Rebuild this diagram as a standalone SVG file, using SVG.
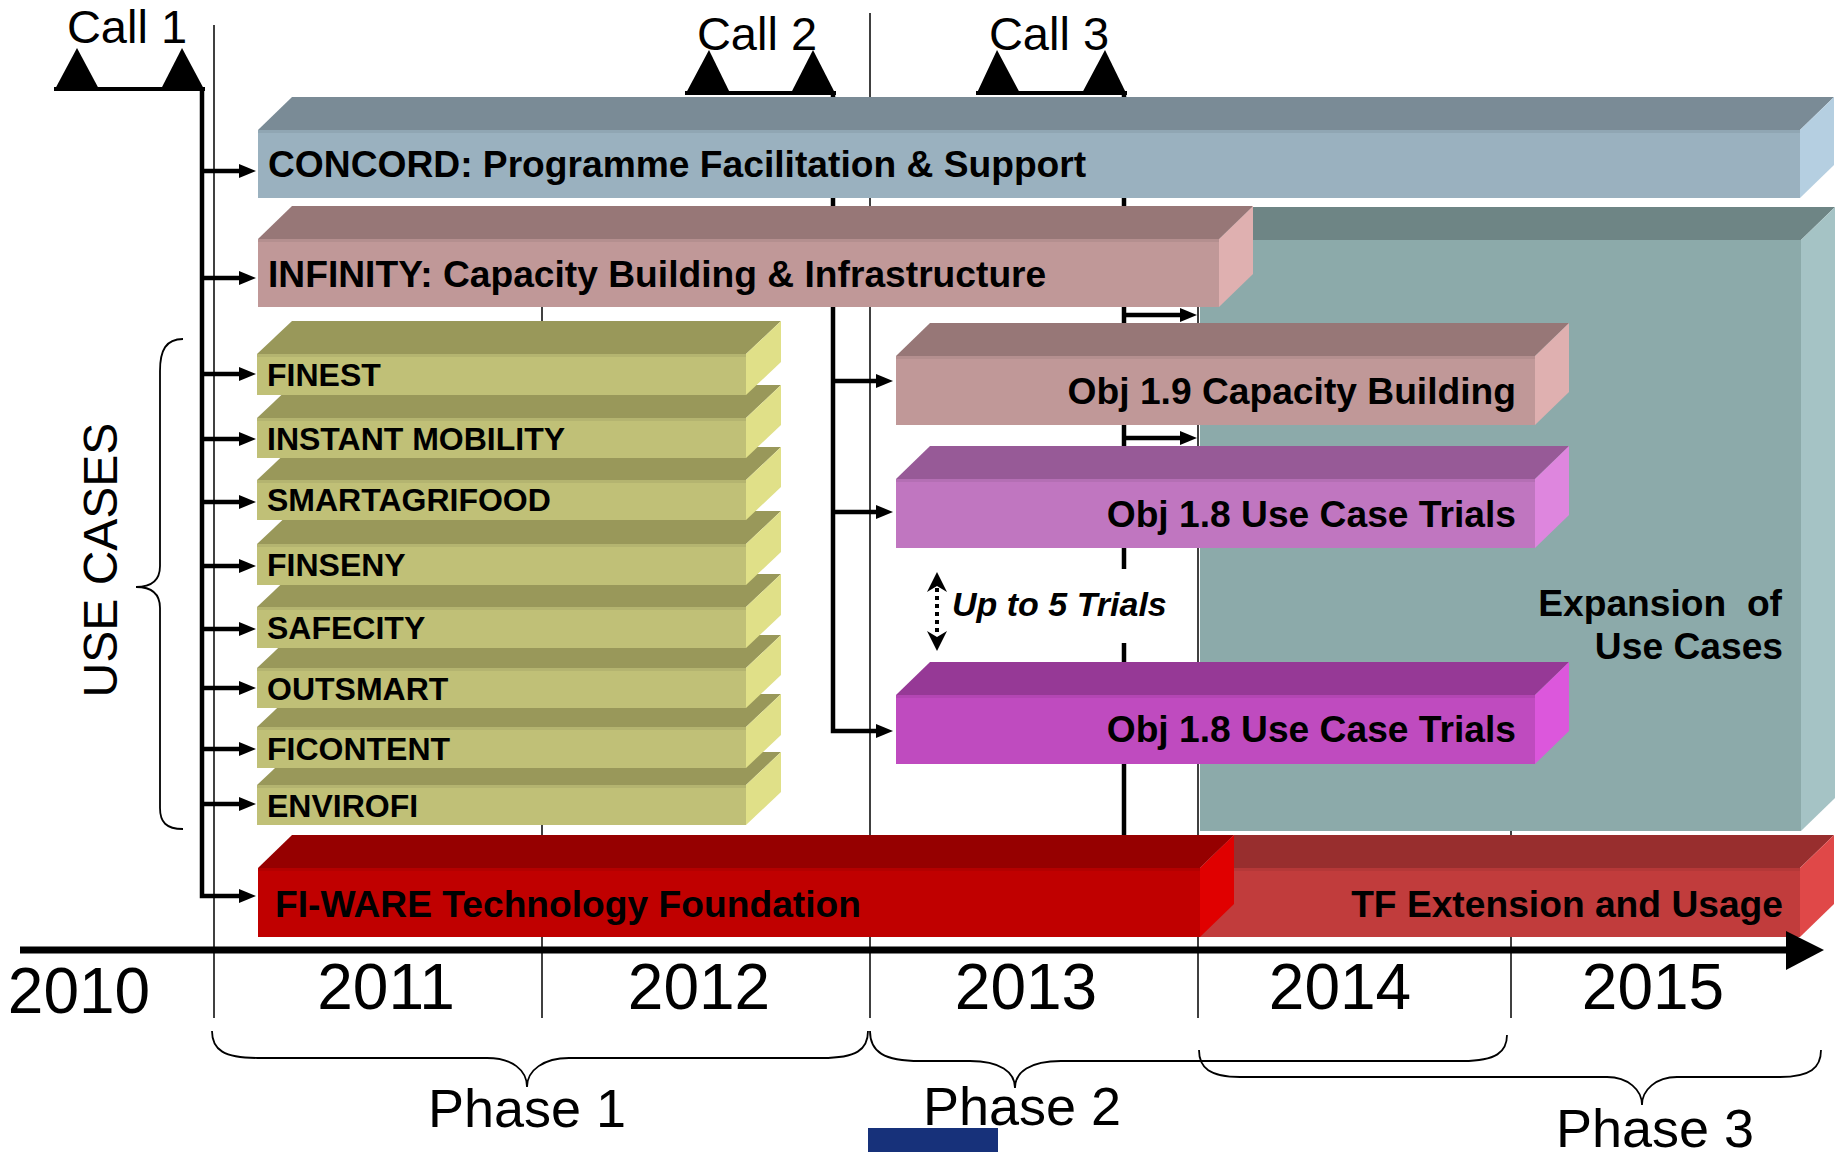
<svg xmlns="http://www.w3.org/2000/svg" width="1840" height="1152" viewBox="0 0 1840 1152">
<style>
text{font-family:"Liberation Sans",Arial,sans-serif;fill:#000}
.lbl{font-size:37.2px;font-weight:bold}
.uc{font-size:32px;font-weight:bold}
.yr{font-size:64px;text-anchor:middle}
.call{font-size:47px;text-anchor:middle}
.ph{font-size:54px;text-anchor:middle}
.yl{stroke:#000;stroke-width:1.5;fill:none}
.con{stroke:#000;stroke-width:4.5;fill:none}
.brace{stroke:#000;stroke-width:1.8;fill:none}
.band{fill:#000;fill-opacity:0.06}
.cf{fill:#9AB1BF}.ct{fill:#7A8B96}.cs{fill:#B5CFE1}
.if{fill:#C09898}.it{fill:#977777}.is{fill:#DFB0B0}
.ef{fill:#8CAAAA}.et{fill:#6E8585}.es{fill:#A5C3C5}
.uf{fill:#C0C077}.ut{fill:#99985A}.us{fill:#E0E088}
.af{fill:#C076C0}.at{fill:#975A97}.as{fill:#DE86DE}
.bf{fill:#BF4BBF}.bt{fill:#963996}.bs{fill:#DC57DC}
.ff{fill:#C00000}.ft{fill:#960000}.fs{fill:#E00000}
.tf{fill:#C13C3C}.tt{fill:#982E2E}.ts{fill:#E04848}
</style>
<defs>
<marker id="ah" markerUnits="userSpaceOnUse" viewBox="0 0 17 14" refX="7" refY="7" markerWidth="17" markerHeight="14" orient="auto">
<path d="M0,0 L17,7 L0,14 Z" fill="#000"/>
</marker>
</defs>

<g id="year-lines">
<line class="yl" x1="214" y1="25" x2="214" y2="1018"/>
<line class="yl" x1="542" y1="280" x2="542" y2="1018"/>
<line class="yl" x1="870" y1="13" x2="870" y2="1018"/>
<line class="yl" x1="1198" y1="240" x2="1198" y2="1018"/>
<line class="yl" x1="1511" y1="800" x2="1511" y2="1018"/>
</g>

<g id="connectors">
<path class="con" d="M202,89 V896 H246" marker-end="url(#ah)"/>
<line class="con" x1="200" y1="171" x2="246" y2="171" marker-end="url(#ah)"/>
<line class="con" x1="200" y1="278" x2="246" y2="278" marker-end="url(#ah)"/>
<line class="con" x1="200" y1="374" x2="246" y2="374" marker-end="url(#ah)"/>
<line class="con" x1="200" y1="439" x2="246" y2="439" marker-end="url(#ah)"/>
<line class="con" x1="200" y1="502" x2="246" y2="502" marker-end="url(#ah)"/>
<line class="con" x1="200" y1="566" x2="246" y2="566" marker-end="url(#ah)"/>
<line class="con" x1="200" y1="629" x2="246" y2="629" marker-end="url(#ah)"/>
<line class="con" x1="200" y1="688" x2="246" y2="688" marker-end="url(#ah)"/>
<line class="con" x1="200" y1="749" x2="246" y2="749" marker-end="url(#ah)"/>
<line class="con" x1="200" y1="804" x2="246" y2="804" marker-end="url(#ah)"/>
<path class="con" d="M833,93 V731 H883" marker-end="url(#ah)"/>
<line class="con" x1="831" y1="381" x2="883" y2="381" marker-end="url(#ah)"/>
<line class="con" x1="831" y1="512" x2="883" y2="512" marker-end="url(#ah)"/>
<line class="con" x1="1124" y1="93" x2="1124" y2="840"/>
<line class="con" x1="1122" y1="315" x2="1187" y2="315" marker-end="url(#ah)"/>
<line class="con" x1="1122" y1="438" x2="1187" y2="438" marker-end="url(#ah)"/>
</g>

<g id="call1">
<polygon points="54,91 77,48 100,91"/>
<polygon points="160,91 182,48 205,91"/>
<rect x="54" y="87" width="151" height="4"/>
<text class="call" x="127" y="43">Call 1</text>
</g>
<g id="call2">
<polygon points="685,95 709,50 731,95"/>
<polygon points="790,95 813,50 836,95"/>
<rect x="685" y="91" width="151" height="4"/>
<text class="call" x="757" y="50">Call 2</text>
</g>
<g id="call3">
<polygon points="976,95 997,50 1021,95"/>
<polygon points="1081,95 1105,50 1127,95"/>
<rect x="976" y="91" width="151" height="4"/>
<text class="call" x="1049" y="50">Call 3</text>
</g>

<g id="concord">
<polygon class="ct" points="258,130 292,97 1834,97 1800,130"/>
<polygon class="cs" points="1800,130 1834,97 1834,165 1800,198"/>
<rect class="cf" x="258" y="130" width="1542" height="68"/>
<rect class="band" x="258" y="130" width="1542" height="3"/>
<text class="lbl" x="268" y="177">CONCORD: Programme Facilitation &amp; Support</text>
</g>

<g id="expansion">
<polygon class="et" points="1200,240 1234,207 1835,207 1801,240"/>
<polygon class="es" points="1801,240 1835,207 1835,798 1801,831"/>
<rect class="ef" x="1200" y="240" width="601" height="591"/>
<text class="lbl" x="1782" y="616" text-anchor="end" xml:space="preserve">Expansion  of</text>
<text class="lbl" x="1783" y="659" text-anchor="end">Use Cases</text>
</g>

<g id="infinity">
<polygon class="it" points="258,239 292,206 1253,206 1219,239"/>
<polygon class="is" points="1219,239 1253,206 1253,274 1219,307"/>
<rect class="if" x="258" y="239" width="961" height="68"/>
<rect class="band" x="258" y="239" width="961" height="3"/>
<text class="lbl" x="268" y="287">INFINITY: Capacity Building &amp; Infrastructure</text>
</g>

<g id="envirofi">
<polygon class="ut" points="257,785 292,752 781,752 746,785"/>
<polygon class="us" points="746,785 781,752 781,792 746,825"/>
<rect class="uf" x="257" y="785" width="489" height="40"/>
<rect class="band" x="257" y="785" width="489" height="3"/>
<text class="uc" x="267" y="817">ENVIROFI</text>
</g>
<g id="ficontent">
<polygon class="ut" points="257,727 292,694 781,694 746,727"/>
<polygon class="us" points="746,727 781,694 781,735 746,768"/>
<rect class="uf" x="257" y="727" width="489" height="41"/>
<rect class="band" x="257" y="727" width="489" height="3"/>
<text class="uc" x="267" y="760">FICONTENT</text>
</g>
<g id="outsmart">
<polygon class="ut" points="257,668 292,635 781,635 746,668"/>
<polygon class="us" points="746,668 781,635 781,675 746,708"/>
<rect class="uf" x="257" y="668" width="489" height="40"/>
<rect class="band" x="257" y="668" width="489" height="3"/>
<text class="uc" x="267" y="700">OUTSMART</text>
</g>
<g id="safecity">
<polygon class="ut" points="257,607 292,574 781,574 746,607"/>
<polygon class="us" points="746,607 781,574 781,615 746,648"/>
<rect class="uf" x="257" y="607" width="489" height="41"/>
<rect class="band" x="257" y="607" width="489" height="3"/>
<text class="uc" x="267" y="639">SAFECITY</text>
</g>
<g id="finseny">
<polygon class="ut" points="257,544 292,511 781,511 746,544"/>
<polygon class="us" points="746,544 781,511 781,552 746,585"/>
<rect class="uf" x="257" y="544" width="489" height="41"/>
<rect class="band" x="257" y="544" width="489" height="3"/>
<text class="uc" x="267" y="576">FINSENY</text>
</g>
<g id="smartagrifood">
<polygon class="ut" points="257,480 292,447 781,447 746,480"/>
<polygon class="us" points="746,480 781,447 781,487 746,520"/>
<rect class="uf" x="257" y="480" width="489" height="40"/>
<rect class="band" x="257" y="480" width="489" height="3"/>
<text class="uc" x="267" y="511">SMARTAGRIFOOD</text>
</g>
<g id="instant-mobility">
<polygon class="ut" points="257,418 292,385 781,385 746,418"/>
<polygon class="us" points="746,418 781,385 781,425 746,458"/>
<rect class="uf" x="257" y="418" width="489" height="40"/>
<rect class="band" x="257" y="418" width="489" height="3"/>
<text class="uc" x="267" y="450">INSTANT MOBILITY</text>
</g>
<g id="finest">
<polygon class="ut" points="257,354 292,321 781,321 746,354"/>
<polygon class="us" points="746,354 781,321 781,362 746,395"/>
<rect class="uf" x="257" y="354" width="489" height="41"/>
<rect class="band" x="257" y="354" width="489" height="3"/>
<text class="uc" x="267" y="386">FINEST</text>
</g>

<g id="obj19">
<polygon class="it" points="896,356 930,323 1569,323 1535,356"/>
<polygon class="is" points="1535,356 1569,323 1569,392 1535,425"/>
<rect class="if" x="896" y="356" width="639" height="69"/>
<rect class="band" x="896" y="356" width="639" height="3"/>
<text class="lbl" x="1516" y="404" text-anchor="end">Obj 1.9 Capacity Building</text>
</g>
<g id="obj18a">
<polygon class="at" points="896,479 930,446 1569,446 1535,479"/>
<polygon class="as" points="1535,479 1569,446 1569,515 1535,548"/>
<rect class="af" x="896" y="479" width="639" height="69"/>
<rect class="band" x="896" y="479" width="639" height="3"/>
<text class="lbl" x="1516" y="527" text-anchor="end">Obj 1.8 Use Case Trials</text>
</g>
<g id="trials-note">
<rect x="924" y="569" width="252" height="74" fill="#fff"/>
<line x1="937" y1="588" x2="937" y2="634" stroke="#000" stroke-width="4" stroke-dasharray="4 4"/>
<path d="M937,572 L947,592 L937,586 L927,592 Z" fill="#000"/>
<path d="M937,651 L947,631 L937,637 L927,631 Z" fill="#000"/>
<text x="952" y="616" style="font-size:34px;font-weight:bold;font-style:italic">Up to 5 Trials</text>
</g>
<g id="obj18b">
<polygon class="bt" points="896,695 930,662 1569,662 1535,695"/>
<polygon class="bs" points="1535,695 1569,662 1569,731 1535,764"/>
<rect class="bf" x="896" y="695" width="639" height="69"/>
<rect class="band" x="896" y="695" width="639" height="3"/>
<text class="lbl" x="1516" y="742" text-anchor="end">Obj 1.8 Use Case Trials</text>
</g>

<g id="tf-extension">
<polygon class="tt" points="1200,868 1234,835 1834,835 1800,868"/>
<polygon class="ts" points="1800,868 1834,835 1834,904 1800,937"/>
<rect class="tf" x="1200" y="868" width="600" height="69"/>
<rect class="band" x="1200" y="868" width="600" height="3"/>
<text class="lbl" x="1783" y="917" text-anchor="end">TF Extension and Usage</text>
</g>
<g id="fiware">
<polygon class="ft" points="258,868 292,835 1234,835 1200,868"/>
<polygon class="fs" points="1200,868 1234,835 1234,904 1200,937"/>
<rect class="ff" x="258" y="868" width="942" height="69"/>
<rect class="band" x="258" y="868" width="942" height="3"/>
<text class="lbl" x="275" y="917">FI-WARE Technology Foundation</text>
</g>

<g id="use-cases">
<path class="brace" d="M183,339 C166,339 160,350 160,371 V566 C160,580 152,587 136,587 C152,587 160,594 160,608 V808 C160,822 166,829 183,829"/>
<text x="117" y="560" transform="rotate(-90 117 560)" style="font-size:48px;text-anchor:middle">USE CASES</text>
</g>

<g id="timeline">
<line x1="20" y1="950" x2="1790" y2="950" stroke="#000" stroke-width="7"/>
<polygon points="1786,931 1824,950 1786,970"/>
<text class="yr" x="79" y="1013">2010</text>
<text class="yr" x="386" y="1009">2011</text>
<text class="yr" x="699" y="1009">2012</text>
<text class="yr" x="1026" y="1009">2013</text>
<text class="yr" x="1340" y="1009">2014</text>
<text class="yr" x="1653" y="1009">2015</text>
</g>

<g id="phase1">
<path class="brace" d="M212,1031 C212,1050 224,1058 258,1058 H487 C512,1058 527,1070 527,1087 C527,1070 544,1058 569,1058 H822 C856,1058 868,1050 868,1031"/>
<text class="ph" x="527" y="1127">Phase 1</text>
</g>
<g id="phase2">
<path class="brace" d="M870,1031 C870,1052 884,1061 920,1061 H970 C1000,1061 1015,1072 1015,1088 C1015,1072 1030,1061 1061,1061 H1463 C1496,1061 1507,1052 1507,1035"/>
<text class="ph" x="1022" y="1125">Phase 2</text>
</g>
<g id="phase3">
<path class="brace" d="M1199,1050 C1199,1068 1210,1077 1240,1077 H1607 C1628,1077 1642,1090 1642,1105 C1642,1090 1656,1077 1677,1077 H1780 C1810,1077 1821,1068 1821,1050"/>
<text class="ph" x="1655" y="1147">Phase 3</text>
</g>

<rect id="blue-tab" x="868" y="1128" width="130" height="24" fill="#17317A"/>
</svg>
